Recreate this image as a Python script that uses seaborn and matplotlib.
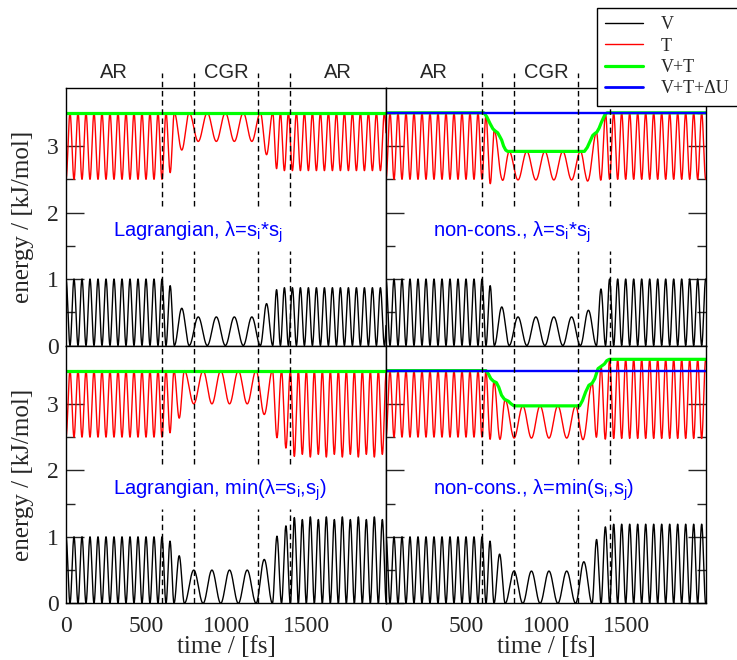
import numpy as np
import matplotlib
matplotlib.use("Agg")
import matplotlib.pyplot as plt
from matplotlib.lines import Line2D
from matplotlib.ticker import MultipleLocator
import seaborn as sns

# ---------------------------------------------------------------------------
# Potential energy V: times (fs) at which V returns to zero, and the peak
# height (kJ/mol) of each oscillation between two consecutive zeros.
# ---------------------------------------------------------------------------
lag_prod_zero_t = [-25, 25, 75, 125, 175, 225, 275, 325, 375, 425, 475, 525, 575, 625,
                   677, 770, 883, 996, 1108, 1215, 1292, 1340,
                   1390, 1440, 1490, 1540, 1590, 1640, 1690, 1740, 1790, 1840, 1890, 1940, 1990, 2040]
lag_prod_peak_V = [1.0, 1.0, 1.0, 1.0, 1.0, 1.0, 1.0, 1.0, 1.0, 1.0, 1.0, 1.0, 1.0,
                   0.90, 0.56, 0.43, 0.43, 0.43, 0.43, 0.63, 0.84, 0.87,
                   0.87, 0.87, 0.87, 0.87, 0.87, 0.87, 0.87, 0.87, 0.87, 0.87, 0.87, 0.87, 0.87]

nc_prod_zero_t = [-25, 25, 75, 125, 175, 225, 275, 325, 375, 425, 475, 525, 575, 625,
                  677, 770, 880, 993, 1105, 1215, 1315, 1372,
                  1423, 1473, 1523, 1573, 1623, 1673, 1723, 1773, 1823, 1873, 1923, 1973, 2023]
nc_prod_peak_V = [1.0, 1.0, 1.0, 1.0, 1.0, 1.0, 1.0, 1.0, 1.0, 1.0, 1.0, 1.0, 1.0,
                  0.90, 0.58, 0.43, 0.43, 0.43, 0.43, 0.53, 0.85, 1.0,
                  1.0, 1.0, 1.0, 1.0, 1.0, 1.0, 1.0, 1.0, 1.0, 1.0, 1.0, 1.0]

lag_min_zero_t = [-25, 25, 75, 125, 175, 225, 275, 325, 375, 425, 475, 525, 575, 625,
                  675, 740, 857, 967, 1077, 1188, 1290, 1347, 1402,
                  1452, 1502, 1552, 1602, 1652, 1702, 1752, 1802, 1852, 1902, 1952, 2002, 2052]
lag_min_peak_V = [1.0, 1.0, 1.0, 1.0, 1.0, 1.0, 1.0, 1.0, 1.0, 1.0, 1.0, 1.0, 1.0,
                  0.935, 0.715, 0.50, 0.50, 0.50, 0.50, 0.66, 1.01, 1.165, 1.29,
                  1.26, 1.30, 1.26, 1.30, 1.26, 1.30, 1.26, 1.30, 1.26, 1.30, 1.26, 1.30]

nc_min_zero_t = [-25, 25, 75, 125, 175, 225, 275, 325, 375, 425, 475, 525, 575, 625,
                 675, 745, 855, 963, 1074, 1185, 1288, 1344, 1398,
                 1448, 1498, 1548, 1598, 1648, 1698, 1748, 1798, 1848, 1898, 1948, 1998, 2048]
nc_min_peak_V = [1.0, 1.0, 1.0, 1.0, 1.0, 1.0, 1.0, 1.0, 1.0, 1.0, 1.0, 1.0, 1.0,
                 0.935, 0.74, 0.485, 0.485, 0.485, 0.485, 0.625, 0.96, 1.15, 1.19,
                 1.19, 1.19, 1.19, 1.19, 1.19, 1.19, 1.19, 1.19, 1.19, 1.19, 1.19, 1.19]

# ---------------------------------------------------------------------------
# V+T for the non-conservative runs (knots, fs / kJ/mol)
# ---------------------------------------------------------------------------
nc_prod_E_t = [0, 612, 630, 650, 668, 681, 698, 712, 723, 735, 748, 760,
               1240, 1258, 1275, 1292, 1306, 1318, 1332, 1345, 1358, 1370, 1382, 2000]
nc_prod_E = [3.5, 3.5, 3.44, 3.34, 3.26, 3.23, 3.2, 3.14, 3.09, 3.0, 2.94, 2.92,
             2.92, 2.98, 3.07, 3.16, 3.19, 3.21, 3.27, 3.35, 3.42, 3.48, 3.5, 3.5]

nc_min_E_t = [0, 625, 640, 655, 672, 690, 705, 722, 740, 765, 782, 800,
              1210, 1228, 1248, 1268, 1288, 1305, 1325, 1348, 1365, 1380, 1395, 2000]
nc_min_E = [3.5, 3.5, 3.45, 3.38, 3.34, 3.32, 3.25, 3.13, 3.07, 3.04, 3.0, 2.97,
            2.97, 3.05, 3.18, 3.28, 3.31, 3.38, 3.53, 3.57, 3.6, 3.65, 3.67, 3.67]

E_conserved = 3.5          # V+T (Lagrangian) and V+T+ΔU (all runs)

region_names = ["AR", "CGR", "AR"]
region_centres = [300, 1000, 1700]
region_bounds = [600, 800, 1200, 1400]

panel_notes = [["Lagrangian, λ=s$_{i}$*s$_{j}$", "non-cons., λ=s$_{i}$*s$_{j}$"],
               ["Lagrangian, min(λ=s$_{i}$,s$_{j}$)", "non-cons., λ=min(s$_{i}$,s$_{j}$)"]]

legend_labels = ["V", "T", "V+T", "V+T+ΔU"]
x_ticks = [0, 500, 1000, 1500]
y_ticks = [0, 1, 2, 3]

# ---------------------------------------------------------------------------
sns.set_style("white")
plt.rcParams.update({
    "font.family": ["Liberation Serif", "DejaVu Serif"],
    "mathtext.fontset": "custom",
    "mathtext.rm": "Liberation Sans",
    "mathtext.it": "Liberation Sans:italic",
    "mathtext.bf": "Liberation Sans:bold",
    "mathtext.default": "regular",
    "axes.edgecolor": "black",
    "axes.linewidth": 1.0,
})

RED, GREEN, BLUE = "#ff0000", "#00ff00", "#0000ff"
SANS = ["Liberation Sans", "DejaVu Sans"]
SERIF = ["Liberation Serif", "DejaVu Serif"]


def potential(t, zeros, peaks):
    z = np.asarray(zeros, float)
    h = np.asarray(peaks, float)
    k = np.clip(np.searchsorted(z, t, side="right") - 1, 0, len(h) - 1)
    frac = (t - z[k]) / (z[k + 1] - z[k])
    return h[k] * np.sin(np.pi * frac) ** 2


t = np.linspace(0, 2000, 8001)

W, H = 737, 660
fig = plt.figure(figsize=(W / 100, H / 100), dpi=100)

x_left = [66 / W, 386 / W]
width = 320 / W
y_bottom = [1 - 345.5 / H, 1 - 603.3 / H]
height = 257.6 / H
YMAX = 3.875

runs = [[(lag_prod_zero_t, lag_prod_peak_V, None, None),
         (nc_prod_zero_t, nc_prod_peak_V, nc_prod_E_t, nc_prod_E)],
        [(lag_min_zero_t, lag_min_peak_V, None, None),
         (nc_min_zero_t, nc_min_peak_V, nc_min_E_t, nc_min_E)]]

for r in range(2):
    for c in range(2):
        ax = fig.add_axes([x_left[c], y_bottom[r], width, height])
        zeros, peaks, e_t, e_v = runs[r][c]
        V = potential(t, zeros, peaks)
        if e_t is None:
            E = np.full_like(t, E_conserved)
            green_x, green_y = [0, 2000], [E_conserved, E_conserved]
        else:
            E = np.interp(t, e_t, e_v)
            green_x, green_y = e_t, e_v
        T = E - V

        sns.lineplot(x=t, y=V, ax=ax, color="black", lw=1.0, sort=False, estimator=None)
        sns.lineplot(x=t, y=T, ax=ax, color=RED, lw=1.0, sort=False, estimator=None)
        sns.lineplot(x=green_x, y=green_y, ax=ax, color=GREEN, lw=2.3, sort=False, estimator=None)
        if c == 1:
            sns.lineplot(x=[0, 2000], y=[E_conserved, E_conserved], ax=ax, color=BLUE,
                         lw=1.7, sort=False, estimator=None)

        ax.set_xlim(0, 2000)
        ax.set_ylim(0, YMAX)

        # region boundaries, broken around the note text
        top_end = 4.1 if r == 0 else YMAX
        for xb in region_bounds:
            ax.plot([xb, xb], [0, 1.42], color="black", lw=1.0, dashes=(4, 2.6))
            ax.plot([xb, xb], [2.1, top_end], color="black", lw=1.0, dashes=(4, 2.6),
                    clip_on=False)

        if r == 0:
            # the last label of the right column sits under the legend box
            shown = 3 if c == 0 else 2
            for name, xc in list(zip(region_names, region_centres))[:shown]:
                ax.text(xc, 4.03, name, ha="center", va="baseline", fontsize=14.5,
                        family=SANS, clip_on=False)

        ax.text(295, 1.63, panel_notes[r][c], ha="left", va="baseline", color=BLUE,
                fontsize=14.5, family=SANS)

        ax.set_xlabel("")
        ax.set_ylabel("")
        ax.yaxis.set_major_locator(MultipleLocator(1))
        ax.yaxis.set_minor_locator(MultipleLocator(0.5))
        ax.set_xticks(x_ticks)
        ax.tick_params(axis="x", which="both", length=0, pad=9, labelsize=17,
                       labelbottom=(r == 1))
        ax.tick_params(axis="y", which="major", direction="in", length=13, width=1.0,
                       left=True, right=(c == 1), labelleft=(c == 0), labelsize=17, pad=5)
        ax.tick_params(axis="y", which="minor", direction="in", length=6.5, width=1.0,
                       left=True, right=(c == 1))
        ax.set_yticks(y_ticks)
        for lab in ax.get_xticklabels() + ax.get_yticklabels():
            lab.set_family(SERIF)
        for s in ax.spines.values():
            s.set_visible(True)
            s.set_linewidth(1.0)
            s.set_color("black")

        if r == 1:
            fig.text(x_left[c] + width / 2, 1 - 647 / H, "time / [fs]", ha="center",
                     va="center", fontsize=18, family=SERIF)
    fig.text(23 / W, y_bottom[r] + height / 2, "energy / [kJ/mol]", rotation=90,
             ha="center", va="center", fontsize=18, family=SERIF)

handles = [Line2D([], [], color="black", lw=1.0),
           Line2D([], [], color=RED, lw=1.0),
           Line2D([], [], color=GREEN, lw=2.3),
           Line2D([], [], color=BLUE, lw=2.0)]
leg = fig.legend(handles, legend_labels, loc="upper left",
                 bbox_to_anchor=(596.7 / W, 1 - 8.3 / H), frameon=True, fancybox=False,
                 edgecolor="black", framealpha=1, prop={"family": SERIF, "size": 13},
                 handlelength=2.1, handletextpad=1.0, borderpad=0.45, labelspacing=0.24,
                 borderaxespad=0)
leg.get_frame().set_linewidth(1.0)

fig.savefig("out.png", dpi=100)
